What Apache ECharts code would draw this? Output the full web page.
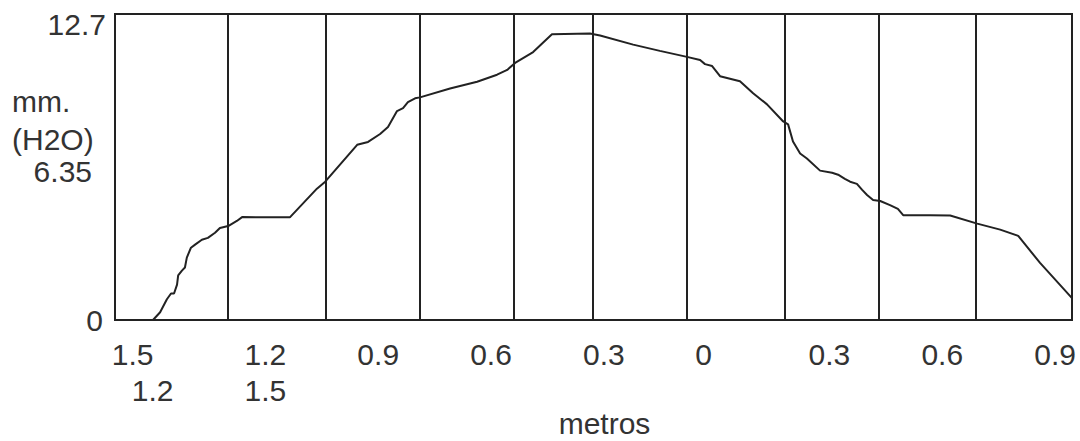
<!DOCTYPE html>
<html>
<head>
<meta charset="utf-8">
<script src="https://cdn.jsdelivr.net/npm/echarts@6/dist/echarts.min.js"></script>
<style>
html,body{margin:0;padding:0;background:#fff;}
#chart{width:1080px;height:441px;}
</style>
</head>
<body>
<div id="chart"></div>
<script>
// distance along the traverse (m, negative = left side) and pressure (mm H2O)
var distX = [-1.499,-1.480,-1.462,-1.451,-1.443,-1.435,-1.432,-1.422,-1.414,-1.409,-1.398,-1.387,-1.369,-1.353,-1.334,-1.321,-1.299,-1.276,-1.262,-1.135,-1.063,-1.041,-0.956,-0.927,-0.895,-0.874,-0.850,-0.834,-0.821,-0.802,-0.789,-0.709,-0.637,-0.584,-0.557,-0.536,-0.488,-0.438,-0.337,-0.310,-0.222,-0.151,-0.079,-0.044,-0.031,-0.012,0.009,0.062,0.097,0.134,0.177,0.190,0.203,0.222,0.240,0.275,0.307,0.323,0.341,0.355,0.373,0.387,0.400,0.416,0.435,0.461,0.482,0.496,0.568,0.621,0.693,0.754,0.802,0.860,0.945];
var pressure = [0,0.32,0.86,1.10,1.10,1.47,1.85,2.05,2.18,2.59,3.00,3.13,3.33,3.41,3.62,3.82,3.90,4.11,4.27,4.26,5.45,5.74,7.27,7.39,7.72,8.01,8.67,8.79,9.04,9.20,9.24,9.61,9.89,10.18,10.38,10.67,11.12,11.86,11.89,11.81,11.43,11.17,10.92,10.79,10.62,10.54,10.12,9.91,9.41,8.95,8.24,8.12,7.41,6.91,6.70,6.20,6.11,6.03,5.86,5.74,5.65,5.40,5.19,4.98,4.94,4.77,4.61,4.35,4.35,4.34,4.00,3.75,3.49,2.37,0.91];
// vertical grid line positions (m)
var gridLinesX = [-1.297,-1.043,-0.789,-0.537,-0.332,-0.077,0.177,0.432,0.686];
// x tick label positions and texts (two rows where the original shows two)
var xTickValues = [-1.5,-1.2,-0.9,-0.6,-0.3,0,0.3,0.6,0.9];
var xTickTop = ['1.5','1.2','0.9','0.6','0.3','0','0.3','0.6','0.9'];
var xTickBottom = ['1.2','1.5','','','','','','',''];
// y tick labels
var yTickValues = [0,6.35,12.7];
var yTickTexts = ['0','6.35','12.7'];

var FONT = 'Liberation Sans, Arial, Helvetica, sans-serif';
var TXT = {fontFamily:FONT,fontSize:30,color:'#333',lineHeight:36};
function st(extra){var o={};for(var k in TXT)o[k]=TXT[k];for(var k2 in extra)o[k2]=extra[k2];return o;}

var chart = echarts.init(document.getElementById('chart'), null, {renderer:'svg'});
var points = distX.map(function(x,i){return [x,pressure[i]];});

chart.setOption({
  animation:false,
  backgroundColor:'#fff',
  title:{
    text:'mm.\n(H2O)',
    left:7, top:77,
    textStyle:{fontFamily:FONT,fontSize:30,fontWeight:'normal',color:'#333',lineHeight:38}
  },
  grid:{left:115,right:8,top:14,bottom:121,show:true,borderColor:'#222',borderWidth:2,containLabel:false,outerBoundsMode:'none'},
  xAxis:{
    type:'value', min:-1.6, max:0.945, interval:0.1,
    name:'metros', nameLocation:'middle', nameGap:88, nameMoveOverlap:false,
    nameTextStyle:{fontFamily:FONT,fontSize:30,lineHeight:30,color:'#333',padding:[0,0,0,22]},
    axisLine:{show:false}, axisTick:{show:false}, splitLine:{show:false},
    axisLabel:{
      fontFamily:FONT,fontSize:30,color:'#333',lineHeight:36,margin:16,
      showMaxLabel:false,
      formatter:function(v){
        for(var i=0;i<xTickValues.length;i++){
          if(Math.abs(v-xTickValues[i])<1e-6){
            if(i===0) return '{s|'+xTickTop[i]+'}\n{n|'+xTickBottom[i]+'}';
            if(xTickTop[i]==='0') return '{z|'+xTickTop[i]+'}';
            if(xTickBottom[i]) return '{n|'+xTickTop[i]+'}\n{n|'+xTickBottom[i]+'}';
            return '{n|'+xTickTop[i]+'}';
          }
        }
        return '';
      },
      rich:{
        s:st({padding:[0,40,0,0]}),
        z:st({padding:[0,26,0,0]}),
        n:st({})
      }
    }
  },
  yAxis:{
    type:'value', min:0, max:12.7, interval:6.35,
    axisLine:{show:false}, axisTick:{show:false}, splitLine:{show:false},
    axisLabel:{
      fontFamily:FONT,fontSize:30,color:'#333',margin:9,
      formatter:function(v){
        for(var i=0;i<yTickValues.length;i++){
          if(Math.abs(v-yTickValues[i])<1e-6){
            if(i===2) return '{t|'+yTickTexts[i]+'}';
            if(i===1) return '{m|'+yTickTexts[i]+'}';
            return '{b|'+yTickTexts[i]+'}';
          }
        }
        return '';
      },
      rich:{
        t:{fontFamily:FONT,fontSize:30,color:'#333',padding:[20,0,0,0]},
        m:{fontFamily:FONT,fontSize:30,color:'#333',padding:[8,14,0,0]},
        b:{fontFamily:FONT,fontSize:30,color:'#333',padding:[0,3,0,0]}
      }
    }
  },
  series:[{
    type:'line',
    data:points,
    symbol:'none',
    smooth:false,
    lineStyle:{color:'#222',width:2},
    markLine:{
      silent:true,
      symbol:'none',
      label:{show:false},
      lineStyle:{color:'#222',width:2,type:'solid'},
      data:gridLinesX.map(function(x){return {xAxis:x};})
    }
  }]
});
</script>
</body>
</html>
